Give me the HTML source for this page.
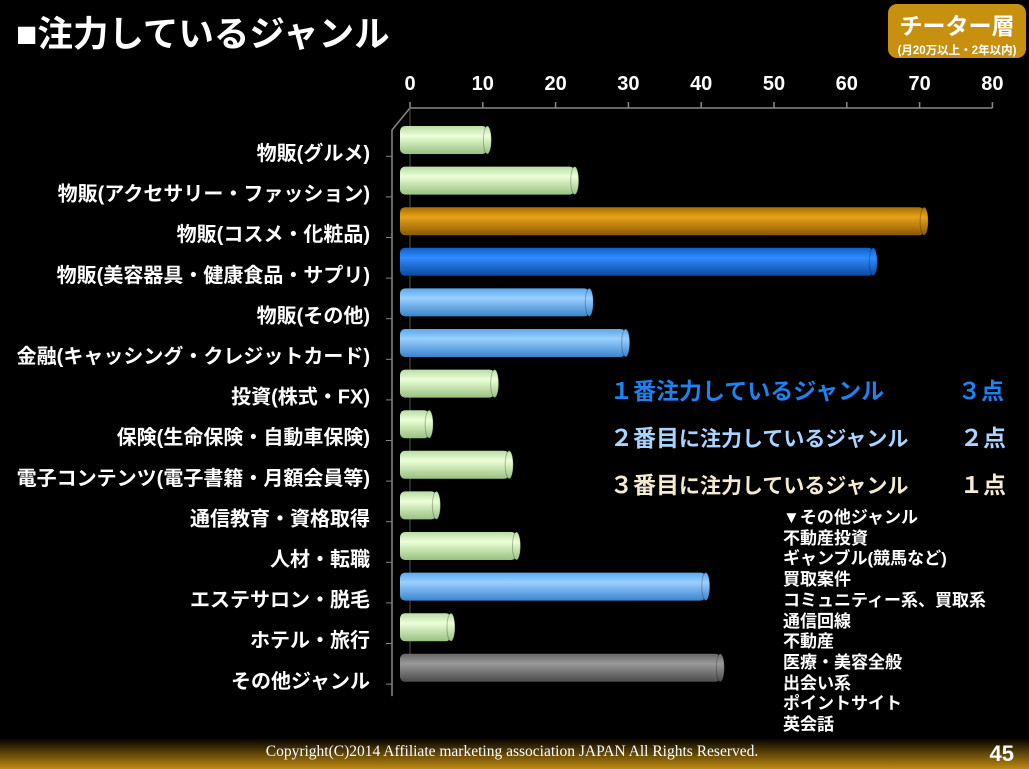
<!DOCTYPE html>
<html><head><meta charset="utf-8">
<style>
html,body{margin:0;padding:0;background:#000;}
body{width:1029px;height:769px;overflow:hidden;position:relative;font-family:"Liberation Sans","Noto Sans CJK JP",sans-serif;color:#fff;}
.t{position:absolute;white-space:nowrap;font-weight:bold;}
</style></head>
<body>
<div class="t" style="left:16px;top:6px;font-size:35.5px;">■注力しているジャンル</div>
<div style="position:absolute;left:888px;top:4px;width:138px;height:54px;background:#c8900f;border-radius:9px;text-align:center;">
 <div style="font-size:23px;font-weight:bold;margin-top:3px;">チーター層</div>
 <div style="font-size:11.5px;font-weight:bold;margin-top:1px;">(月20万以上・2年以内)</div>
</div>
<svg id="chart" width="1029" height="769" style="position:absolute;left:0;top:0;">
<defs>
 <linearGradient id="gGreen" x1="0" y1="0" x2="0" y2="1"><stop offset="0" stop-color="#b9dca4"/><stop offset="0.35" stop-color="#ecffd8"/><stop offset="1" stop-color="#98c080"/></linearGradient>
 <linearGradient id="gGold" x1="0" y1="0" x2="0" y2="1"><stop offset="0" stop-color="#a86c00"/><stop offset="0.35" stop-color="#e6a31a"/><stop offset="1" stop-color="#8a5800"/></linearGradient>
 <linearGradient id="gBlue" x1="0" y1="0" x2="0" y2="1"><stop offset="0" stop-color="#0f5fc8"/><stop offset="0.35" stop-color="#2f8cff"/><stop offset="1" stop-color="#0a4aa0"/></linearGradient>
 <linearGradient id="gLBlue" x1="0" y1="0" x2="0" y2="1"><stop offset="0" stop-color="#5aa8ee"/><stop offset="0.35" stop-color="#9ad0ff"/><stop offset="1" stop-color="#3a84cc"/></linearGradient>
 <linearGradient id="gGray" x1="0" y1="0" x2="0" y2="1"><stop offset="0" stop-color="#666"/><stop offset="0.35" stop-color="#9a9a9a"/><stop offset="1" stop-color="#4a4a4a"/></linearGradient>
 <linearGradient id="gFoot" x1="0" y1="0" x2="0" y2="1"><stop offset="0" stop-color="#000"/><stop offset="1" stop-color="#c08a10"/></linearGradient>
</defs>
<g id="axes"></g><g id="bars"></g><g id="labels"></g>
<rect x="0" y="738" width="1029" height="31" fill="url(#gFoot)"/>
<text x="512" y="756" text-anchor="middle" font-family="Liberation Serif,serif" font-size="15.5" fill="#fff">Copyright(C)2014 Affiliate marketing association JAPAN  All Rights Reserved.</text>
<text x="1014" y="761" text-anchor="end" font-size="22" font-weight="bold" fill="#fff">45</text>
</svg>
<div class="t" style="left:610px;top:372px;font-size:23px;color:#1e82f0;">１番注力しているジャンル</div>
<div class="t" style="left:958px;top:372px;font-size:23px;color:#1e82f0;">３点</div>
<div class="t" style="left:610px;top:419px;font-size:23px;color:#a8d4ff;">２番目<span style="font-size:21px">に注力しているジャンル</span></div>
<div class="t" style="left:960px;top:419px;font-size:23px;color:#a8d4ff;">２点</div>
<div class="t" style="left:610px;top:466px;font-size:23px;color:#f4ead0;">３番目<span style="font-size:21px">に注力しているジャンル</span></div>
<div class="t" style="left:960px;top:466px;font-size:23px;color:#f4ead0;">１点</div>
<div class="t" style="left:783px;top:508px;font-size:17px;line-height:20.7px;">▼その他ジャンル<br>不動産投資<br>ギャンブル(競馬など)<br>買取案件<br>コミュニティー系、買取系<br>通信回線<br>不動産<br>医療・美容全般<br>出会い系<br>ポイントサイト<br>英会話</div>
<script>
const categories=["物販(グルメ)","物販(アクセサリー・ファッション)","物販(コスメ・化粧品)","物販(美容器具・健康食品・サプリ)","物販(その他)","金融(キャッシング・クレジットカード)","投資(株式・FX)","保険(生命保険・自動車保険)","電子コンテンツ(電子書籍・月額会員等)","通信教育・資格取得","人材・転職","エステサロン・脱毛","ホテル・旅行","その他ジャンル"];
const values=[12,24,72,65,26,31,13,4,15,5,16,42,7,44];
const colorKeys=["g","g","o","b","l","l","g","g","g","g","g","l","g","y"];
const ticks=[0,10,20,30,40,50,60,70,80];
const fills={g:"url(#gGreen)",o:"url(#gGold)",b:"url(#gBlue)",l:"url(#gLBlue)",y:"url(#gGray)"};
const ns="http://www.w3.org/2000/svg";
const x0=410,unit=7.28,dx=-10,top0=108,rowH=40.6,first=140,barH=28;
const xb=v=>x0+v*unit;
const yc=i=>first+i*rowH;
function mk(t,a,p){const e=document.createElementNS(ns,t);for(const k in a)e.setAttribute(k,a[k]);p.appendChild(e);return e;}
const ax=document.getElementById('axes'),bg=document.getElementById('bars'),lg=document.getElementById('labels');
const bottom=yc(categories.length-1)+rowH/2+8;
let l=mk('line',{x1:x0,y1:top0,x2:xb(80),y2:top0,stroke:'#888','stroke-width':1.5},ax);

l=mk('polyline',{points:`${x0},${top0} ${x0-18},${top0+22} ${x0-18},${bottom}`,fill:'none',stroke:'#888','stroke-width':1.5},ax);

l=mk('line',{x1:x0,y1:top0,x2:x0,y2:bottom-22,stroke:'#555','stroke-width':1},ax);

ticks.forEach(t=>{
 const tl=mk('line',{x1:xb(t),y1:top0-6,x2:xb(t),y2:top0,stroke:'#888','stroke-width':1.5},ax);
 
 const tx=mk('text',{x:xb(t),y:90,'text-anchor':'middle','font-size':20,'font-weight':'bold',fill:'#fff'},ax);
 tx.textContent=t;
 
});
categories.forEach((c,i)=>{
 const y=yc(i),v=values[i],xs=x0+dx,xe=xb(v)+dx;
 const g=mk('g',{},bg);
 
 mk('rect',{x:xs,y:y-barH/2,width:Math.max(xe-xs,6),height:barH,rx:5,fill:fills[colorKeys[i]]},g);
 mk('ellipse',{cx:xe,cy:y,rx:4,ry:barH/2,fill:fills[colorKeys[i]],stroke:'rgba(0,0,0,0.25)'},g);
 const tk=mk('line',{x1:x0-24,y1:y+rowH/2-4,x2:x0-18,y2:y+rowH/2-4,stroke:'#888'},ax);
 
 const tx=mk('text',{x:370,y:y+20,'text-anchor':'end','font-size':20,'font-weight':'bold',fill:'#fff'},lg);
 tx.textContent=c;
 
});
</script>
</body></html>
